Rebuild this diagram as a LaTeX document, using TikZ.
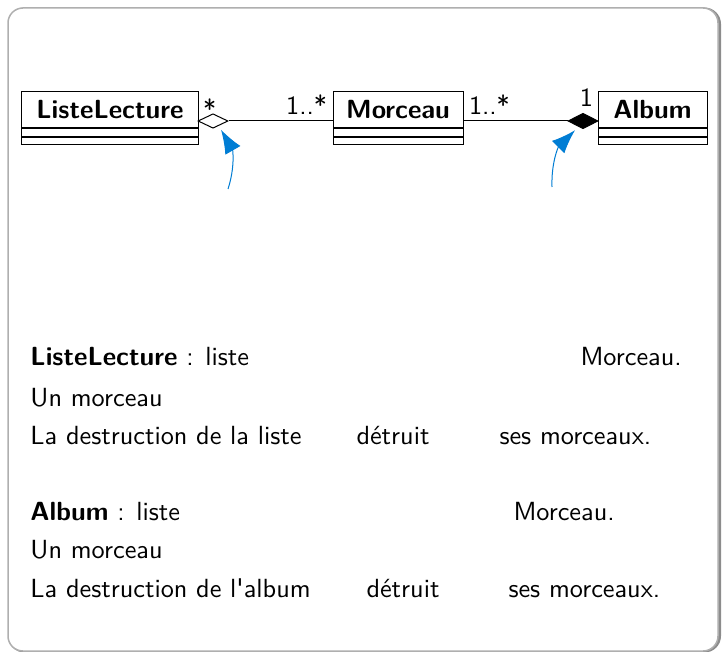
\documentclass[tikz,border=0pt]{standalone}
\usepackage{tikz}
\usetikzlibrary{positioning}
\usetikzlibrary{arrows.meta}
\usetikzlibrary{shapes.geometric}
\renewcommand{\familydefault}{\sfdefault}
\definecolor{ptrblue}{RGB}{0,125,212}
\definecolor{framegray}{RGB}{175,175,175}
\definecolor{shadowgray}{RGB}{140,140,140}
\newcommand{\slidefont}{\fontsize{10.5}{12.5}\selectfont\sffamily}
\tikzset {
  % uml class: name part and two empty parts
  classname/.style = {draw, font=\slidefont\bfseries, minimum height=14.4pt, inner sep=0pt},
  compart/.style = {draw, minimum height=3pt, inner sep=0pt},
  % aggregation and composition diamonds
  aggr/.style = {diamond, draw, fill=white, inner sep=0pt, minimum width=12pt, minimum height=5.8pt},
  compo/.style = {diamond, draw, fill=black, inner sep=0pt, minimum width=12pt, minimum height=6.2pt},
  mult/.style = {font=\slidefont, inner sep=2pt},
  % blue pointers
  pointer/.style = {draw=ptrblue, -{Latex[length=9.5pt, width=7pt]}},
  txt/.style = {font=\slidefont, anchor=base west, inner sep=0pt},
}

\begin{document}
\begin{tikzpicture}[x=0.4pt, y=0.4pt]
  \useasboundingbox (0,0) rectangle (726,-652);
  % frame
  \draw[shadowgray, line width=1.2pt, rounded corners=6pt] (9.5,-9) rectangle (719.5,-651);
  \draw[framegray, line width=0.6pt, rounded corners=6pt, fill=white] (8,-8) rectangle (718,-651);

  % classes
  \node[classname, minimum width=70.4pt] (liste) at (110,-110) {ListeLecture};
  \node[classname, minimum width=52pt] (morceau) at (398,-110) {Morceau};
  \node[classname, minimum width=43.6pt] (album) at (652.5,-110) {Album};
  \foreach \n/\w in {liste/70.4pt, morceau/52pt, album/43.6pt} {
    \node[compart, minimum width=\w, below=0pt of \n] (\n2) {};
    \node[compart, minimum width=\w, minimum height=2.8pt, below=0pt of \n2] (\n3) {};
  }

  % associations
  \node[aggr] (agg) at (213,-121) {};
  \node[compo] (comp) at (583,-121) {};
  \draw (agg) -- node[mult, pos=1, anchor=base east, yshift=2.4pt] {1..*} (agg -| morceau.west);
  \draw (morceau.east |- comp) -- node[mult, pos=0, anchor=base west, yshift=2.4pt] {1..*} (comp);
  \node[mult, anchor=base west] (star) at ([yshift=0.8pt]agg.west) {*};
  \node[mult, anchor=base east] (one) at ([yshift=5.6pt]comp.east) {1};

  % pointers
  \coordinate (ptrL) at (228,-189);
  \coordinate (ptrR) at (552,-187);
  \draw[pointer] (ptrL) to[out=72, in=-60] ([xshift=3.2pt, yshift=-0.4pt]agg.south);
  \draw[pointer] (ptrR) to[out=92, in=-135] ([xshift=-3.2pt, yshift=-0.4pt]comp.south);

  % text
  \node[txt] (t1a) at (30,-365) {\textbf{ListeLecture} : liste};
  \node[txt] (t1b) at (580,-365) {Morceau.};
  \node[txt] (t2) at (30,-406) {Un morceau};
  \node[txt] (t3a) at (30,-444) {La destruction de la liste};
  \node[txt] (t3b) at (356,-444) {détruit};
  \node[txt] (t3c) at (499,-444) {ses morceaux.};
  \node[txt] (t4a) at (30,-520) {\textbf{Album} : liste};
  \node[txt] (t4b) at (513,-520) {Morceau.};
  \node[txt] (t5) at (30,-558) {Un morceau};
  \node[txt] (t6a) at (30,-597) {La destruction de l\textquotesingle album};
  \node[txt] (t6b) at (366,-597) {détruit};
  \node[txt] (t6c) at (508,-597) {ses morceaux.};
\end{tikzpicture}
\end{document}
